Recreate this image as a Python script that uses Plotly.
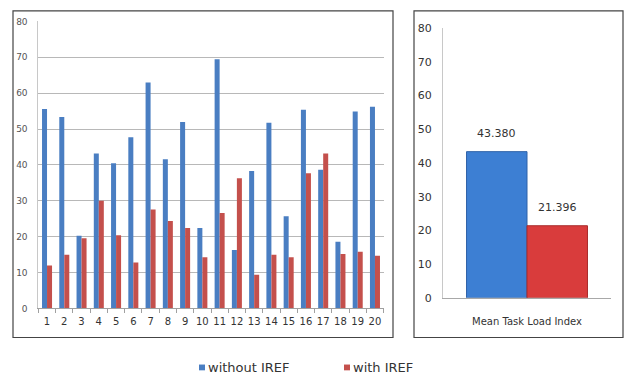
import plotly.graph_objects as go

# Per-subject task load index
subjects = [str(i) for i in range(1, 21)]
without_iref = [55.6, 53.4, 20.3, 43.2, 40.5, 47.7, 63.0, 41.6, 52.0, 22.4,
                69.5, 16.3, 38.3, 51.8, 25.7, 55.4, 38.7, 18.6, 54.9, 56.2]
with_iref = [12.0, 15.0, 19.6, 30.0, 20.4, 12.8, 27.6, 24.4, 22.4, 14.3,
             26.6, 36.3, 9.4, 15.0, 14.3, 37.7, 43.2, 15.2, 15.8, 14.7]

# Mean values
mean_category = ["Mean Task Load Index"]
mean_without = [43.380]
mean_with = [21.396]

y_ticks = [0, 10, 20, 30, 40, 50, 60, 70, 80]
series_names = ["without IREF", "with IREF"]

BLUE = "#4a7ec2"
RED = "#c4504c"
BLUE_M = "#3d7fd3"
RED_M = "#d93c3c"

W, H = 627, 387


def px_x(v):
    return v / W


def px_y(v):
    return 1 - v / H


fig = go.Figure()

fig.add_trace(go.Bar(x=subjects, y=without_iref, name=series_names[0],
                     marker=dict(color=BLUE, line=dict(width=0)),
                     width=0.29, offset=-0.29, xaxis="x", yaxis="y"))
fig.add_trace(go.Bar(x=subjects, y=with_iref, name=series_names[1],
                     marker=dict(color=RED, line=dict(width=0)),
                     width=0.29, offset=0.0, xaxis="x", yaxis="y"))

fig.add_trace(go.Bar(x=mean_category, y=mean_without, name=series_names[0],
                     marker=dict(color=BLUE_M, line=dict(color="#2f62a8", width=1)),
                     width=0.36, offset=-0.36, xaxis="x2", yaxis="y2"))
fig.add_trace(go.Bar(x=mean_category, y=mean_with, name=series_names[1],
                     marker=dict(color=RED_M, line=dict(color="#a82a2a", width=1)),
                     width=0.36, offset=0.0, xaxis="x2", yaxis="y2"))

# Value labels above the mean bars
for val, xs in ((mean_without[0], -0.18), (mean_with[0], 0.18)):
    fig.add_annotation(x=xs, y=val, xref="x2", yref="y2", text=f"{val:.3f}",
                       showarrow=False, yanchor="bottom", yshift=10,
                       font=dict(size=11, color="#333333"))

font_fam = "DejaVu Sans, Arial, sans-serif"

# Legend: small colour squares with labels, centred under both panels
legend_items = [(series_names[0], BLUE, 199), (series_names[1], RED, 344)]
shapes = []
for name, col, x0 in legend_items:
    shapes.append(dict(type="rect", xref="paper", yref="paper",
                       x0=px_x(x0), x1=px_x(x0 + 6), y0=px_y(377), y1=px_y(371),
                       fillcolor=col, line=dict(width=0)))
    fig.add_annotation(x=px_x(x0 + 7), y=px_y(374), xref="paper", yref="paper",
                       text=name, showarrow=False, xanchor="left",
                       yanchor="middle",
                       font=dict(size=13, color="#333333"))

shapes += [
    dict(type="rect", xref="paper", yref="paper",
         x0=px_x(13), x1=px_x(393), y0=px_y(343), y1=px_y(5),
         line=dict(color="#444444", width=1.2)),
    dict(type="rect", xref="paper", yref="paper",
         x0=px_x(414), x1=px_x(623), y0=px_y(343), y1=px_y(5),
         line=dict(color="#444444", width=1.2)),
]

fig.update_layout(
    width=W, height=H,
    margin=dict(l=0, r=0, t=0, b=0),
    paper_bgcolor="white", plot_bgcolor="white",
    font=dict(family=font_fam, size=10, color="#444444"),
    showlegend=False,
    xaxis=dict(domain=[px_x(38.4), px_x(383.6)], anchor="y", type="category",
               range=[-0.5, 19.5], showgrid=False,
               showline=True, linecolor="#a0a0a0", linewidth=1,
               ticks="outside", ticklen=4, tickcolor="#a0a0a0",
               tickson="boundaries", tickangle=0, ticklabelstandoff=4,
               tickfont=dict(size=10, color="#333333")),
    yaxis=dict(domain=[px_y(313), px_y(16)], anchor="x", range=[0, 80],
               tickvals=y_ticks, showgrid=True, gridcolor="#b8b8b8",
               gridwidth=1, showline=True, linecolor="#c8c8c8", zeroline=False,
               ticks="", ticklabelstandoff=8,
               tickfont=dict(size=9, color="#555555")),
    xaxis2=dict(domain=[px_x(443), px_x(611)], anchor="y2", type="category",
                range=[-0.5, 0.5], showgrid=False,
                showline=True, linecolor="#a8a8a8", linewidth=1,
                ticks="", ticklabelstandoff=14,
                tickfont=dict(size=10, color="#333333")),
    yaxis2=dict(domain=[px_y(302), px_y(23)], anchor="x2", range=[0, 80],
                tickvals=y_ticks, showgrid=False, showline=True,
                linecolor="#c8c8c8", zeroline=False, ticks="",
                ticklabelstandoff=8,
                tickfont=dict(size=11, color="#333333")),
    shapes=shapes,
)

fig.write_html("out.html")
